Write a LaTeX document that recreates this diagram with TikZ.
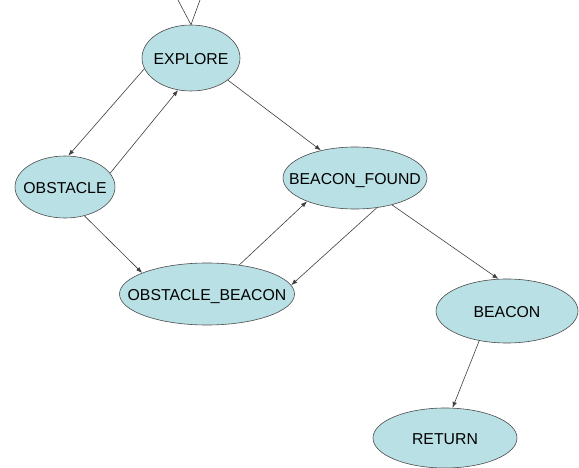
\documentclass[tikz,border=0pt]{standalone}
\usepackage{fontspec}
\setmainfont{Liberation Sans}
\usetikzlibrary{shapes.geometric,arrows.meta}
\definecolor{stfill}{HTML}{B9E0E4}
\definecolor{edgec}{HTML}{404040}
\newcommand\zt[1]{\makebox[0pt]{\raisebox{-0.6\height}[0pt][0pt]{#1}}}
\begin{document}
\begin{tikzpicture}[x=1pt,y=-1pt,
  st/.style={ellipse,draw=black!70,fill=stfill,inner sep=0pt,line width=0.6pt,font=\fontsize{15.8}{18}\selectfont},
  tr/.style={draw=edgec,line width=0.6pt,-{Latex[length=6pt,width=4.5pt]}}]
\useasboundingbox (0,0) rectangle (579,468);
\fill[white] (0,0) rectangle (579,468);
\node[st,minimum width=98pt,minimum height=66pt] (E) at (191,58) {\zt{EXPLORE}};
\node[st,minimum width=100pt,minimum height=62pt] (O) at (65,187) {\zt{OBSTACLE}};
\node[st,minimum width=144pt,minimum height=62pt] (BF) at (355,178) {\zt{BEACON\_FOUND}};
\node[st,minimum width=175pt,minimum height=62pt] (OB) at (207,294) {\zt{OBSTACLE\_BEACON}};
\node[st,minimum width=142pt,minimum height=64pt] (B) at (507,311) {\zt{BEACON}};
\node[st,minimum width=144pt,minimum height=60pt] (R) at (445,438) {\zt{RETURN}};
\coordinate (v1) at (178,0);
\coordinate (v2) at (200,0);
\draw[edgec,line width=0.6pt] (v1) -- (E.north) -- (v2);
\draw[tr] (E.193.8) -- (O.84.3);
\draw[tr] (O.17.3) -- (E.248.2);
\draw[tr] (E.329.7) -- (BF.141.9);
\draw[tr] (O.304) -- (OB.162.6);
\draw[tr] (OB.42.4) -- (BF.206.1);
\draw[tr] (BF.306.6) -- (OB.6.2);
\draw[tr] (BF.324.5) -- (B.105.7);
\draw[tr] (B.227.8) -- (R.76);
\end{tikzpicture}
\end{document}
